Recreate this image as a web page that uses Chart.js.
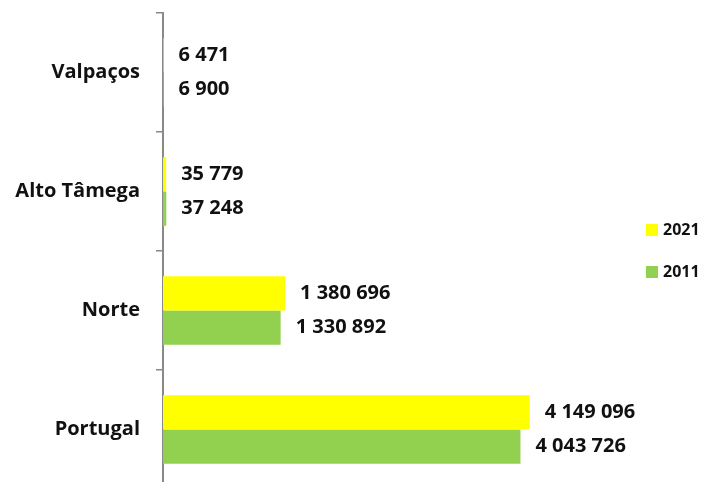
<!DOCTYPE html>
<html>
<head>
<meta charset="utf-8">
<script src="https://cdn.jsdelivr.net/npm/chart.js@4/dist/chart.umd.min.js"></script>
<style>
  html, body { margin: 0; padding: 0; background: #fff; overflow: hidden; }
  #wrap { width: 704px; height: 482px; overflow: hidden; }
</style>
</head>
<body>
<div id="wrap"><canvas id="popChart" width="704" height="490"></canvas></div>
<script>
const regions = ["Valpaços", "Alto Tâmega", "Norte", "Portugal"];
const pop2021 = [6471, 35779, 1380696, 4149096];
const pop2011 = [6900, 37248, 1330892, 4043726];
const seriesNames = ["2021", "2011"];

const FONT = "'Open Sans', 'Noto Sans', sans-serif";

function fmt(v) {
    return String(v).replace(/\B(?=(\d{3})+(?!\d))/g, " ");
}

// value labels to the right of each bar
const valueLabels = {
    id: "valueLabels",
    afterDatasetsDraw(chart) {
        const ctx = chart.ctx;
        ctx.save();
        ctx.font = "bold 20px " + FONT;
        ctx.fillStyle = "#111";
        ctx.textBaseline = "middle";
        ctx.textAlign = "left";
        chart.data.datasets.forEach((ds, i) => {
            chart.getDatasetMeta(i).data.forEach((bar, j) => {
                ctx.fillText(fmt(ds.data[j]), bar.x + 15, bar.y);
            });
        });
        ctx.restore();
    }
};

// small square legend on the right
const sideLegend = {
    id: "sideLegend",
    afterDraw(chart) {
        const ctx = chart.ctx;
        ctx.save();
        ctx.font = "bold 16px " + FONT;
        ctx.textBaseline = "middle";
        chart.data.datasets.forEach((ds, i) => {
            const y = 230 + i * 42;
            ctx.fillStyle = ds.backgroundColor;
            ctx.fillRect(646, y - 6, 12, 12);
            ctx.fillStyle = "#111";
            ctx.fillText(ds.label, 663, y);
        });
        ctx.restore();
    }
};

new Chart(document.getElementById("popChart"), {
    type: "bar",
    data: {
        labels: regions,
        datasets: [
            { label: seriesNames[0], data: pop2021, backgroundColor: "#FFFF00" },
            { label: seriesNames[1], data: pop2011, backgroundColor: "#92D050" }
        ]
    },
    options: {
        indexAxis: "y",
        responsive: false,
        animation: false,
        layout: { padding: { top: 13, bottom: 1, left: 0, right: 99 } },
        datasets: { bar: { categoryPercentage: 0.576, barPercentage: 1 } },
        plugins: { legend: { display: false }, tooltip: { enabled: false } },
        scales: {
            x: { display: false, min: 0, max: 5000000 },
            y: {
                afterFit(scale) {
                    scale.width = 163;
                    scale.paddingTop = 0;
                    scale.paddingBottom = 0;
                },
                grid: { drawOnChartArea: false, drawTicks: true, tickLength: 7, color: "#898989", lineWidth: 1.5 },
                border: { display: true, color: "#898989", width: 2 },
                ticks: { color: "#111", padding: 16, font: { family: FONT, size: 20, weight: "bold" } }
            }
        }
    },
    plugins: [valueLabels, sideLegend]
});
</script>
</body>
</html>
